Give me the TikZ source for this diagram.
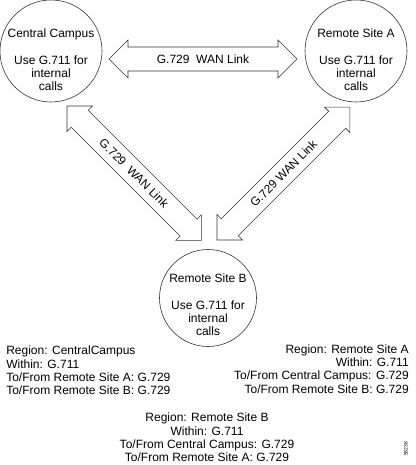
\documentclass[tikz,border=0pt]{standalone}
\usepackage{fontspec}
\setmainfont{Liberation Sans}
\usetikzlibrary{calc}
\begin{document}
\begin{tikzpicture}[x=1pt,y=-1pt,
  line width=0.6pt,
  site/.style={circle,draw=black!80,line width=0.6pt,inner sep=0pt,minimum size=#1},
  sitetext/.style={align=center,font=\fontsize{12}{13.3}\selectfont,inner sep=0pt},
  regiontext/.style={font=\fontsize{12}{13.2}\selectfont,inner sep=0pt},
  arrowtext/.style={font=\fontsize{12}{14}\selectfont,inner sep=0pt},
  blockarrow/.style={draw=black!80,line width=0.6pt,line join=miter,fill=white}]
\useasboundingbox (0,0) rectangle (415,465);

% sites
\node[site=102pt] (cc) at (51,51) {};
\node[site=102pt] (ra) at (356,51) {};
\node[site=97pt] (rb) at (208,298) {};

\node[sitetext] (cct) at (51,60) {Central Campus\\[13.5pt]Use G.711 for\\internal\\calls};
\node[sitetext] (rat) at (356,60) {Remote Site A\\[13.5pt]Use G.711 for\\internal\\calls};
\node[sitetext] (rbt) at (208,305) {Remote Site B\\[13.5pt]Use G.711 for\\internal\\calls};

% arrow tips
\coordinate (h1) at (109,59);
\coordinate (h2) at (297,59);
\coordinate (l1) at (67,106);
\coordinate (l2) at (201,240);
\coordinate (r1) at (217,240);
\coordinate (r2) at (350,107);

% horizontal double arrow
\begin{scope}[shift={(h1)}]
\draw[blockarrow] (0,0) -- (19,-19) -- (19,-12) -- (169,-12) -- (169,-19) -- (188,0)
  -- (169,19) -- (169,12) -- (19,12) -- (19,19) -- cycle;
\end{scope}
% left diagonal double arrow
\begin{scope}[shift={(l1)},rotate=-45]
\draw[blockarrow] (0,0) -- (18,-18) -- (18,-12) -- (172,-12) -- (172,-18) -- (190,0)
  -- (172,18) -- (172,12) -- (18,12) -- (18,18) -- cycle;
\end{scope}
% right diagonal double arrow
\begin{scope}[shift={(r1)},rotate=45]
\draw[blockarrow] (0,0) -- (18,-18) -- (18,-12) -- (170,-12) -- (170,-18) -- (188,0)
  -- (170,18) -- (170,12) -- (18,12) -- (18,18) -- cycle;
\end{scope}

\node[arrowtext] (hl) at ($(h1)!0.5!(h2)$) {G.729\ \ WAN Link};
\node[arrowtext,rotate=-45] (ll) at ($(l1)!0.5!(l2)$) {G.729\ \ WAN Link};
\node[arrowtext,rotate=45] (rl) at ($(r1)!0.5!(r2)$) {G.729 WAN Link};

% region descriptions
\node[regiontext,align=left,anchor=west] (regc) at (6,370.5)
  {Region: CentralCampus\\Within: G.711\\To/From Remote Site A: G.729\\To/From Remote Site B: G.729};
\node[regiontext,align=right,anchor=east] (rega) at (409,369)
  {Region: Remote Site A\\Within: G.711\\To/From Central Campus: G.729\\To/From Remote Site B: G.729};
\node[regiontext,align=center] (regb) at (207,437.5)
  {Region: Remote Site B\\Within: G.711\\To/From Central Campus: G.729\\To/From Remote Site A: G.729};

\node[font=\fontsize{5}{5}\selectfont,rotate=90,inner sep=0pt] (fig) at (406,449) {58238};
\end{tikzpicture}
\end{document}
